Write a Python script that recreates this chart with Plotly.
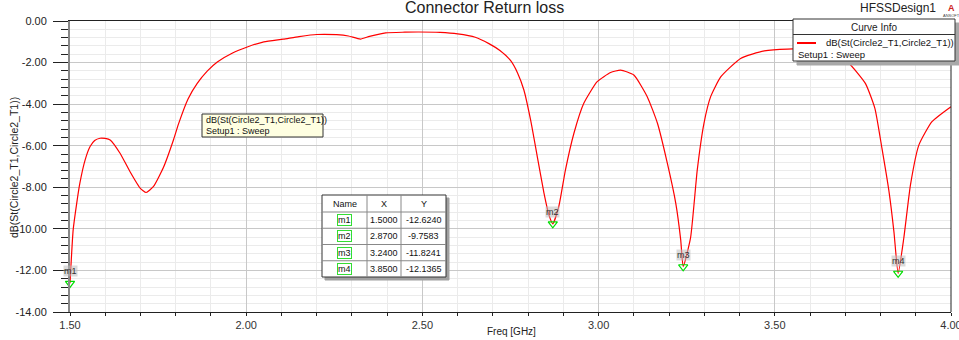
import plotly.graph_objects as go

# ---- data ----
freq = [1.500, 1.509, 1.519, 1.528, 1.543, 1.557, 1.570, 1.585, 1.600, 1.614, 1.642,
        1.670, 1.699, 1.716, 1.737, 1.765, 1.794, 1.808, 1.835, 1.861, 1.890, 1.918,
        1.960, 2.003, 2.050, 2.105, 2.150, 2.200, 2.257, 2.290, 2.324, 2.350, 2.396,
        2.450, 2.490, 2.550, 2.600, 2.650, 2.690, 2.720, 2.750, 2.770, 2.788, 2.807,
        2.826, 2.845, 2.859, 2.870, 2.887, 2.906, 2.930, 2.958, 2.996, 3.034, 3.0625,
        3.100, 3.138, 3.167, 3.195, 3.219, 3.233, 3.240, 3.261, 3.280, 3.299, 3.318,
        3.347, 3.403, 3.470, 3.536, 3.580, 3.630, 3.670, 3.710, 3.757, 3.784, 3.804,
        3.824, 3.838, 3.850, 3.866, 3.885, 3.909, 3.946, 4.000]
db = [-12.62, -10.05, -8.77, -7.80, -6.68, -6.04, -5.75, -5.64, -5.65, -5.72, -6.36,
      -7.24, -8.04, -8.25, -7.96, -7.05, -5.70, -4.95, -3.75, -3.00, -2.40, -1.97,
      -1.55, -1.25, -1.00, -0.87, -0.75, -0.65, -0.66, -0.72, -0.87, -0.74, -0.57,
      -0.54, -0.53, -0.55, -0.62, -0.78, -1.10, -1.42, -1.90, -2.50, -3.32, -4.76,
      -6.52, -8.28, -9.33, -9.76, -8.93, -7.16, -5.40, -3.96, -2.92, -2.48, -2.36,
      -2.60, -3.64, -4.92, -6.84, -8.77, -10.53, -11.82, -10.42, -7.16, -4.92, -3.64,
      -2.68, -1.80, -1.44, -1.35, -1.36, -1.45, -1.65, -2.03, -3.00, -4.20, -6.12,
      -8.20, -10.13, -12.14, -10.45, -7.88, -5.96, -4.84, -4.12]

marker_names = ["m1", "m2", "m3", "m4"]
marker_x = [1.5000, 2.8700, 3.2400, 3.8500]
marker_y = [-12.6240, -9.7583, -11.8241, -12.1365]

x_ticks = [1.5, 2.0, 2.5, 3.0, 3.5, 4.0]
y_ticks = [0, -2, -4, -6, -8, -10, -12, -14]

title = "Connector Return loss"
design = "HFSSDesign1"
curve_name = "dB(St(Circle2_T1,Circle2_T1))"
setup_name = "Setup1 : Sweep"
x_title = "Freq [GHz]"

# ---- layout geometry ----
W, H = 959, 340
L, R, T, B = 70, 8, 21, 28
PW, PH = W - L - R, H - T - B
FONT = "Arial, Liberation Sans, sans-serif"


def px(x):
    return (x - L) / PW


def py(y):
    return (H - B - y) / PH


fig = go.Figure()
fig.add_trace(go.Scatter(x=freq, y=db, mode="lines",
                         line=dict(color="#ff0000", width=1.2, shape="spline", smoothing=0.5),
                         hoverinfo="skip", showlegend=False))
fig.add_trace(go.Scatter(x=marker_x, y=marker_y, mode="markers", cliponaxis=False,
                         marker=dict(symbol="triangle-down-open", size=8,
                                     color="#00dd00", line=dict(width=1.2, color="#00dd00")),
                         hoverinfo="skip", showlegend=False))

shapes = []
annotations = []


def rect(x0, y0, x1, y1, fill="white", line="#333", lw=1):
    shapes.append(dict(type="rect", xref="paper", yref="paper",
                       x0=px(x0), x1=px(x1), y0=py(y1), y1=py(y0),
                       fillcolor=fill, line=dict(color=line, width=lw), layer="above"))


def hline(x0, x1, y, color="#888", lw=1):
    shapes.append(dict(type="line", xref="paper", yref="paper",
                       x0=px(x0), x1=px(x1), y0=py(y), y1=py(y),
                       line=dict(color=color, width=lw), layer="above"))


def vline(x, y0, y1, color="#888", lw=1):
    shapes.append(dict(type="line", xref="paper", yref="paper",
                       x0=px(x), x1=px(x), y0=py(y0), y1=py(y1),
                       line=dict(color=color, width=lw), layer="above"))


def text(x, y, s, size=9, color="#111", xanchor="center", **kw):
    annotations.append(dict(xref="paper", yref="paper", x=px(x), y=py(y), text=s,
                            showarrow=False, xanchor=xanchor, yanchor="middle",
                            font=dict(family=FONT, size=size, color=color), **kw))


# right border of plot
vline(W - R, T, H - B, color="#222", lw=1)

# title and design name
text(484, 8, title, size=16, color="#222")
text(898, 8, design, size=12, color="#222")
text(951, 8, "<b>A</b>", size=9, color="#cc2222")
text(951, 15, "ANSOFT", size=4, color="#444")

# axis titles
text(511, 331, x_title, size=10, color="#222")
annotations.append(dict(xref="paper", yref="paper", x=px(14), y=py(168), text=curve_name,
                        showarrow=False, textangle=-90, xanchor="center", yanchor="middle",
                        font=dict(family=FONT, size=10.5, color="#222")))

# tooltip box
rect(202, 114, 323, 137, fill="#ffffe1", line="#333")
text(204, 120, curve_name, size=9, xanchor="left")
text(204, 131, setup_name, size=9, xanchor="left")

# curve info box
rect(797, 23, 959, 65, fill="#a8a8a8", line="#a8a8a8")
rect(793, 19, 955, 61, fill="white", line="#333")
hline(793, 955, 34.5, color="#333")
text(874, 27, "Curve Info", size=10, color="#222")
hline(797, 816, 43, color="#ff0000", lw=2)
text(824, 43, curve_name, size=9.5, xanchor="left", color="#111")
text(796, 54, setup_name, size=9.5, xanchor="left", color="#111")

# marker table
tx0, tx1, ty0, ty1 = 322, 446, 195, 277
cols = [tx0, 367, 401, tx1]
rows = [ty0, 212, 228.25, 244.5, 260.75, ty1]
rect(tx0 + 3, ty0 + 3, tx1 + 3, ty1 + 3, fill="#a0a0a0", line="#a0a0a0")
rect(tx0, ty0, tx1, ty1, fill="white", line="#333")
for c in cols[1:-1]:
    vline(c, ty0, ty1)
for r in rows[1:-1]:
    hline(tx0, tx1, r)
headers = ["Name", "X", "Y"]
for i, hname in enumerate(headers):
    text((cols[i] + cols[i + 1]) / 2, (rows[0] + rows[1]) / 2, hname, size=9)
for j, name in enumerate(marker_names):
    yc = (rows[j + 1] + rows[j + 2]) / 2
    text((cols[0] + cols[1]) / 2, yc, name, size=9, bordercolor="#33dd33",
         borderwidth=1, borderpad=0)
    text((cols[1] + cols[2]) / 2, yc, f"{marker_x[j]:.4f}", size=9)
    text((cols[2] + cols[3]) / 2, yc, f"{marker_y[j]:.4f}", size=9)

# marker labels on curve
for name, mx, my in zip(marker_names, marker_x, marker_y):
    annotations.append(dict(x=mx, y=my, xref="x", yref="y", text=name, showarrow=False,
                            yshift=12, bgcolor="rgba(190,190,190,0.55)", borderpad=0,
                            font=dict(family=FONT, size=9, color="#333")))

fig.update_layout(
    width=W, height=H,
    margin=dict(l=L, r=R, t=T, b=B, pad=0, autoexpand=False),
    paper_bgcolor="white", plot_bgcolor="white",
    font=dict(family=FONT, size=11, color="#222"),
    shapes=shapes, annotations=annotations,
    showlegend=False,
    xaxis=dict(range=[1.5, 4.0], tickvals=x_ticks, ticktext=[f"{v:.2f}" for v in x_ticks],
               automargin=False,
               showgrid=True, gridcolor="#c8c8c8", gridwidth=1,
               showline=True, linecolor="#222", linewidth=1, mirror=True,
               ticks="outside", ticklen=3, tickcolor="#222", zeroline=False,
               tickfont=dict(size=11, color="#333"), ticklabelstandoff=0,
               ticklabeloverflow="allow",
               minor=dict(dtick=0.1, tick0=1.5, showgrid=True, gridcolor="#ebebeb",
                          ticks="outside", ticklen=3, tickcolor="#222")),
    yaxis=dict(range=[-14, 0], tickvals=y_ticks, ticktext=[f"{v:.2f}" for v in y_ticks],
               automargin=False,
               showgrid=True, gridcolor="#c8c8c8", gridwidth=1,
               showline=True, linecolor="#888", linewidth=2, mirror=False,
               ticks="outside", ticklen=15, tickcolor="#222", zeroline=False,
               tickfont=dict(size=11, color="#222"), ticklabelstandoff=4,
               minor=dict(dtick=0.4, tick0=0, showgrid=True, gridcolor="#ebebeb",
                          ticks="outside", ticklen=7, tickcolor="#222")),
)

fig.write_html("out.html", config={"displayModeBar": False},
               post_script="document.body.style.margin='0px';document.body.style.overflow='hidden';")
